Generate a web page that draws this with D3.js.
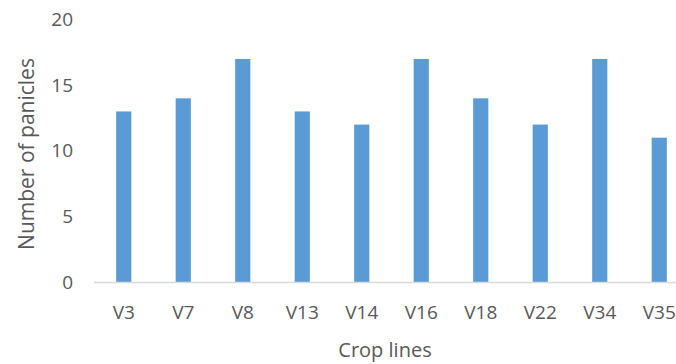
<!DOCTYPE html>
<html>
<head>
<meta charset="utf-8">
<script src="https://cdn.jsdelivr.net/npm/d3@7"></script>
<style>
  html, body { margin: 0; padding: 0; background: #fff; }
  svg { display: block; }
  text { font-family: "Open Sans", "Noto Sans", sans-serif; fill: #595959; }
</style>
</head>
<body>
<svg id="chart" width="676" height="364"></svg>
<script>
const categories = ["V3", "V7", "V8", "V13", "V14", "V16", "V18", "V22", "V34", "V35"];
const panicles = [13, 14, 17, 13, 12, 17, 14, 12, 17, 11];
const yTicks = [0, 5, 10, 15, 20];

const svg = d3.select("#chart");
const plotLeft = 94, plotRight = 689, plotTop = 19.6, plotBottom = 282;

const x = d3.scaleBand().domain(categories).range([plotLeft, plotRight]).paddingInner(0.745).paddingOuter(0.3725);
const y = d3.scaleLinear().domain([0, 20]).range([plotBottom, plotTop]);

// bars
svg.append("g").selectAll("rect")
  .data(categories)
  .join("rect")
  .attr("x", d => x(d))
  .attr("width", x.bandwidth())
  .attr("y", (d, i) => y(panicles[i]))
  .attr("height", (d, i) => y(0) - y(panicles[i]))
  .attr("fill", "#5b9bd5");

// baseline
svg.append("line")
  .attr("x1", plotLeft).attr("x2", 676)
  .attr("y1", y(0) + 0.5).attr("y2", y(0) + 0.5)
  .attr("stroke", "#d9d9d9").attr("stroke-width", 1.3);

// y tick labels
const yAxis = svg.append("g").attr("transform", `translate(${plotLeft},0)`)
  .call(d3.axisLeft(y).tickValues(yTicks).tickSize(0).tickPadding(21));
yAxis.select(".domain").remove();
yAxis.selectAll("text").style("font-size", "19px").attr("fill", "#595959")
  .style("font-family", '"Open Sans", sans-serif');

// x tick labels
const xAxis = svg.append("g").attr("transform", `translate(0,${plotBottom})`)
  .call(d3.axisBottom(x).tickSize(0).tickPadding(24));
xAxis.select(".domain").remove();
xAxis.selectAll("text").style("font-size", "19px").attr("fill", "#595959")
  .style("font-family", '"Open Sans", sans-serif');

// axis titles
svg.append("text")
  .attr("transform", `translate(34,154) rotate(-90)`)
  .attr("text-anchor", "middle")
  .style("font-size", "21px")
  .text("Number of panicles");

svg.append("text")
  .attr("x", 385).attr("y", 357)
  .attr("text-anchor", "middle")
  .style("font-size", "20px")
  .text("Crop lines");
</script>
</body>
</html>
